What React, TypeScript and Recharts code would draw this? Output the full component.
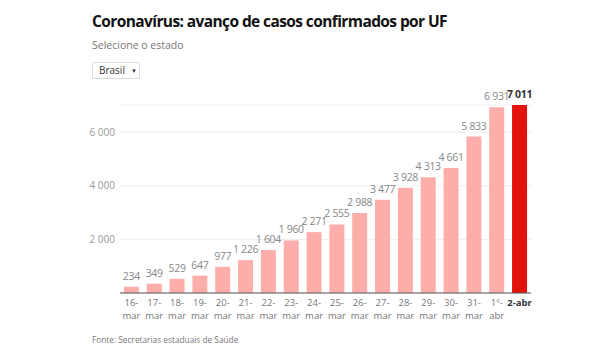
import { BarChart, Bar, XAxis, YAxis, CartesianGrid, Cell, LabelList } from 'recharts'

const days = ['16-\nmar', '17-\nmar', '18-\nmar', '19-\nmar', '20-\nmar', '21-\nmar', '22-\nmar', '23-\nmar', '24-\nmar', '25-\nmar', '26-\nmar', '27-\nmar', '28-\nmar', '29-\nmar', '30-\nmar', '31-\nmar', '1º-\nabr', '2-abr']
const cases = [234, 349, 529, 647, 977, 1226, 1604, 1960, 2271, 2555, 2988, 3477, 3928, 4313, 4661, 5833, 6931, 7011]
const yTicks = [2000, 4000, 6000]

const FONT = '"Open Sans", sans-serif'
const lastIdx = cases.length - 1

const data = days.map((d, i) => ({ day: d, cases: cases[i] }))

const fmt = (v: number) => String(v).replace(/\B(?=(\d{3})+(?!\d))/g, ' ')

function DayTick({ x, y, payload, index }: any) {
  const lines = String(payload.value).split('\n')
  const isLast = index === lastIdx
  return (
    <text x={x} y={y} textAnchor="middle" fontFamily={FONT} fontSize={9.5} fill={isLast ? '#333' : '#777'} fontWeight={isLast ? 700 : 400}>
      {lines.map((l, i) => (
        <tspan key={i} x={x} dy={i === 0 ? 5 : 13}>{l}</tspan>
      ))}
    </text>
  )
}

function ValueLabel({ x, y, width, value, index }: any) {
  const isLast = index === lastIdx
  return (
    <text x={x + width / 2} y={y - 7} textAnchor="middle" fontFamily={FONT} fontSize={10.5} letterSpacing={-0.3}
      fill={isLast ? '#333' : '#888'} fontWeight={isLast ? 700 : 400}>
      {fmt(value)}
    </text>
  )
}

export default function App() {
  return (
    <div style={{ position: 'absolute', left: 0, top: 0, width: 600, height: 362, background: '#fff', fontFamily: FONT }}>
      <div style={{ position: 'absolute', left: 92, top: 10, fontSize: 15.5, fontWeight: 700, letterSpacing: -0.6, color: '#111', whiteSpace: 'nowrap' }}>
        Coronavírus: avanço de casos confirmados por UF
      </div>
      <div style={{ position: 'absolute', left: 92, top: 38, fontSize: 10.5, color: '#777', whiteSpace: 'nowrap' }}>Selecione o estado</div>
      <div style={{ position: 'absolute', left: 92, top: 62, width: 48, height: 17, boxSizing: 'border-box', border: '1px solid #ddd', borderRadius: 2, fontSize: 10, color: '#333', lineHeight: '15px', paddingLeft: 6, whiteSpace: 'nowrap' }}>
        Brasil<span style={{ fontSize: 6, marginLeft: 6, verticalAlign: 1 }}>▼</span>
      </div>
      <div style={{ position: 'absolute', left: 0, top: 0 }}>
        <BarChart width={600} height={362} data={data} margin={{ top: 105, right: 69, bottom: 39, left: 0 }} barCategoryGap="17%">
          <CartesianGrid vertical={false} stroke="#eee" />
          <XAxis dataKey="day" interval={0} tickLine={false} axisLine={{ stroke: '#555' }} tick={<DayTick />} />
          <YAxis width={120} domain={[0, 'dataMax']} ticks={yTicks} axisLine={false} tickLine={false} tickSize={0} tickMargin={5}
            tick={{ fontFamily: FONT, fontSize: 10, fill: '#999' }} tickFormatter={fmt} />
          <Bar dataKey="cases" isAnimationActive={false}>
            {data.map((_, i) => <Cell key={i} fill={i === lastIdx ? '#e3120b' : '#fdaeaa'} />)}
            <LabelList dataKey="cases" content={<ValueLabel />} />
          </Bar>
        </BarChart>
      </div>
      <div style={{ position: 'absolute', left: 92, top: 334, fontSize: 8.3, color: '#777', whiteSpace: 'nowrap' }}>Fonte: Secretarias estaduais de Saúde</div>
    </div>
  )
}
